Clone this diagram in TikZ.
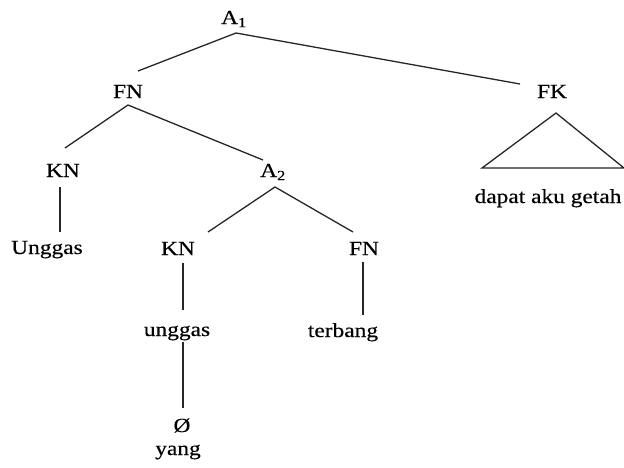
\documentclass[tikz,border=0pt]{standalone}
\usepackage{fontspec}
\setmainfont{Liberation Serif}[FakeStretch=1.17,FakeBold=0.4]
\begin{document}
\begin{tikzpicture}[x=1pt,y=-1pt,
  lbl/.style={font=\fontsize{20}{24}\selectfont, inner sep=0pt, anchor=base, text=black},
  edge/.style={line width=1.3pt, draw=black!85}]
\useasboundingbox (0,0) rectangle (624,467);
% labels
\node[lbl] (A1) at (234,24) {A\textsubscript{1}};
\node[lbl] (FN) at (128,98) {FN};
\node[lbl] (FK) at (552,98) {FK};
\node[lbl] (KNa) at (63,177) {KN};
\node[lbl] (A2) at (273,177) {A\textsubscript{2}};
\node[lbl] (Ung) at (47,254) {Unggas};
\node[lbl] (KNb) at (178,255) {KN};
\node[lbl] (FNb) at (364,255) {FN};
\node[lbl] (ung) at (177,336) {unggas};
\node[lbl] (ter) at (343,337) {terbang};
\node[lbl] (null) at (182,432) {Ø};
\node[lbl] (yang) at (178,455) {yang};
\node[lbl] (dapat) at (548,203) {dapat aku getah};
% connector points
\coordinate (A1b) at (236,33);
\coordinate (FNt) at (138,71);
\coordinate (FKt) at (520,84);
\coordinate (FNb0) at (128,105);
\coordinate (KNat) at (65,148);
\coordinate (A2t) at (263,160);
\coordinate (A2b) at (275,187);
\coordinate (KNbt) at (208,232);
\coordinate (FNbt) at (353,232);
\coordinate (tA) at (556,113);
\coordinate (tB) at (482,168);
\coordinate (tC) at (624,168);
% vertical connector ends
\coordinate (KNaB) at (60,187);
\coordinate (UngT) at (60,232);
\coordinate (KNbB) at (183,263);
\coordinate (ungT) at (183,310);
\coordinate (FNbB) at (363,262);
\coordinate (terT) at (363,315);
\coordinate (ungB) at (183,342);
\coordinate (nullT) at (183,408);
% connectors
\draw[edge] (FNt) -- (A1b) -- (FKt);
\draw[edge] (KNat) -- (FNb0) -- (A2t);
\draw[edge] (KNbt) -- (A2b) -- (FNbt);
\draw[edge] (KNaB) -- (UngT);
\draw[edge] (KNbB) -- (ungT);
\draw[edge] (FNbB) -- (terT);
\draw[edge] (ungB) -- (nullT);
\draw[edge] (tA) -- (tB) -- (tC) -- cycle;
\end{tikzpicture}
\end{document}
